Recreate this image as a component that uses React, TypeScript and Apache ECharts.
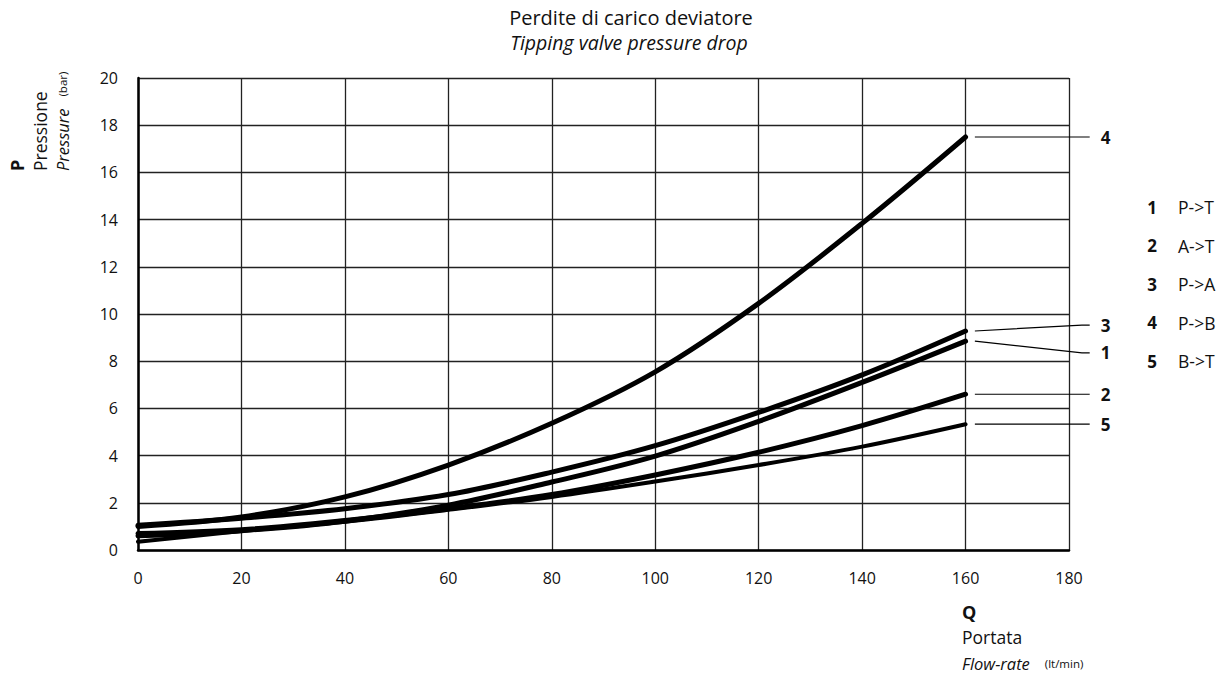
import React, { useEffect, useRef } from "react";
import * as echarts from "echarts";

const FLOW = [0, 20, 40, 60, 80, 100, 120, 140, 160];
const P_T = [0.6, 0.82, 1.22, 1.9, 2.88, 3.98, 5.45, 7.1, 8.85];
const A_T = [0.7, 0.86, 1.25, 1.75, 2.35, 3.18, 4.14, 5.27, 6.6];
const P_A = [1.05, 1.35, 1.75, 2.35, 3.3, 4.42, 5.83, 7.42, 9.28];
const P_B = [1.0, 1.4, 2.25, 3.6, 5.37, 7.55, 10.45, 13.84, 17.5];
const B_T = [0.35, 0.8, 1.2, 1.7, 2.25, 2.9, 3.6, 4.38, 5.33];

const SERIES = [
  { id: "1", name: "P->T", values: P_T, width: 5, labelY: 8.35 },
  { id: "2", name: "A->T", values: A_T, width: 5, labelY: 6.6 },
  { id: "3", name: "P->A", values: P_A, width: 5, labelY: 9.53 },
  { id: "4", name: "P->B", values: P_B, width: 5, labelY: 17.5 },
  { id: "5", name: "B->T", values: B_T, width: 4, labelY: 5.33 },
];

const TITLE = "Perdite di carico deviatore";
const SUBTITLE = "Tipping valve pressure drop";
const FONT = "'Open Sans', 'Noto Sans', sans-serif";

export default function App() {
  const ref = useRef<HTMLDivElement>(null);
  useEffect(() => {
    if (!ref.current) return;
    const chart = echarts.init(ref.current, null, { renderer: "svg" });
    const option: any = {
      animation: false,
      backgroundColor: "#fff",
      textStyle: { fontFamily: FONT },
      grid: { left: 138, right: 156, top: 78, bottom: 125 },
      xAxis: {
        type: "value",
        min: 0,
        max: 180,
        interval: 20,
        axisLine: { show: true, onZero: false, lineStyle: { color: "#000", width: 2.5 } },
        axisTick: { show: false },
        axisLabel: { color: "#111", fontSize: 16, margin: 20, fontFamily: FONT },
        splitLine: { show: true, lineStyle: { color: "#222", width: 1.3 } },
      },
      yAxis: {
        type: "value",
        min: 0,
        max: 20,
        interval: 2,
        axisLine: { show: true, onZero: false, lineStyle: { color: "#000", width: 2.5 } },
        axisTick: { show: false },
        axisLabel: { color: "#111", fontSize: 16, margin: 20, fontFamily: FONT },
        splitLine: { show: true, lineStyle: { color: "#222", width: 1.3 } },
      },
      series: SERIES.map((s) => ({
        type: "line",
        name: s.name,
        data: FLOW.map((q, i) => [q, s.values[i]]),
        smooth: 0.35,
        showSymbol: false,
        symbol: "none",
        lineStyle: { color: "#000", width: s.width, cap: "round", join: "round" },
        z: 5,
      })),
    };
    chart.setOption(option);

    const px = (x: number, y: number) =>
      chart.convertToPixel({ xAxisIndex: 0, yAxisIndex: 0 }, [x, y]) as number[];

    const graphics: any[] = [];
    graphics.push({
      type: "text",
      x: 631,
      y: 17,
      style: { text: TITLE, font: `20px ${FONT}`, fill: "#111", align: "center", verticalAlign: "middle" },
    });
    graphics.push({
      type: "text",
      x: 629,
      y: 42,
      style: { text: SUBTITLE, font: `italic 19.5px ${FONT}`, fill: "#111", align: "center", verticalAlign: "middle" },
    });

    // Leader lines and end numbers
    SERIES.forEach((s) => {
      const endVal = s.values[s.values.length - 1];
      const a = px(161.8, endVal);
      const b = px(182.5, s.labelY);
      const c = px(184, s.labelY);
      graphics.push({
        type: "polyline",
        shape: { points: [a, b, c] },
        style: { stroke: "#000", lineWidth: 1.2, fill: null },
      });
      graphics.push({
        type: "text",
        x: c[0] + 16,
        y: c[1],
        style: { text: s.id, font: `bold 17px ${FONT}`, fill: "#111", align: "center", verticalAlign: "middle" },
      });
    });

    // Legend (ordered by id)
    [...SERIES]
      .sort((p, q) => Number(p.id) - Number(q.id))
      .forEach((s, i) => {
        const y = 207 + i * 38.6;
        graphics.push({
          type: "text",
          x: 1152,
          y,
          style: { text: s.id, font: `bold 17px ${FONT}`, fill: "#111", align: "center", verticalAlign: "middle" },
        });
        graphics.push({
          type: "text",
          x: 1178,
          y,
          style: { text: s.name, font: `17.5px ${FONT}`, fill: "#111", align: "left", verticalAlign: "middle" },
        });
      });

    // Y axis title (rotated)
    graphics.push({
      type: "text",
      x: 17,
      y: 171,
      rotation: Math.PI / 2,
      style: { text: "P", font: `bold 18px ${FONT}`, fill: "#111", align: "left", verticalAlign: "middle" },
    });
    graphics.push({
      type: "text",
      x: 40,
      y: 171,
      rotation: Math.PI / 2,
      style: { text: "Pressione", font: `17.5px ${FONT}`, fill: "#111", align: "left", verticalAlign: "middle" },
    });
    graphics.push({
      type: "text",
      x: 62,
      y: 171,
      rotation: Math.PI / 2,
      style: {
        rich: {
          a: { font: `italic 16.5px ${FONT}`, fill: "#111" },
          b: { font: `11.5px ${FONT}`, fill: "#111" },
        },
        text: "{a|Pressure}{b|    (bar)}",
        align: "left",
        verticalAlign: "middle",
      },
    });

    // X axis title
    graphics.push({
      type: "text",
      x: 962,
      y: 612,
      style: { text: "Q", font: `bold 18px ${FONT}`, fill: "#111", align: "left", verticalAlign: "middle" },
    });
    graphics.push({
      type: "text",
      x: 962,
      y: 637,
      style: { text: "Portata", font: `17.5px ${FONT}`, fill: "#111", align: "left", verticalAlign: "middle" },
    });
    graphics.push({
      type: "text",
      x: 962,
      y: 663,
      style: {
        rich: {
          a: { font: `italic 16.5px ${FONT}`, fill: "#111" },
          b: { font: `11.5px ${FONT}`, fill: "#111" },
        },
        text: "{a|Flow-rate}{b|     (lt/min)}",
        align: "left",
        verticalAlign: "middle",
      },
    });

    chart.setOption({ graphic: graphics });
    return () => chart.dispose();
  }, []);
  return (
    <div
      ref={ref}
      style={{ position: "fixed", left: 0, top: 0, width: 1225, height: 675 }}
    />
  );
}
